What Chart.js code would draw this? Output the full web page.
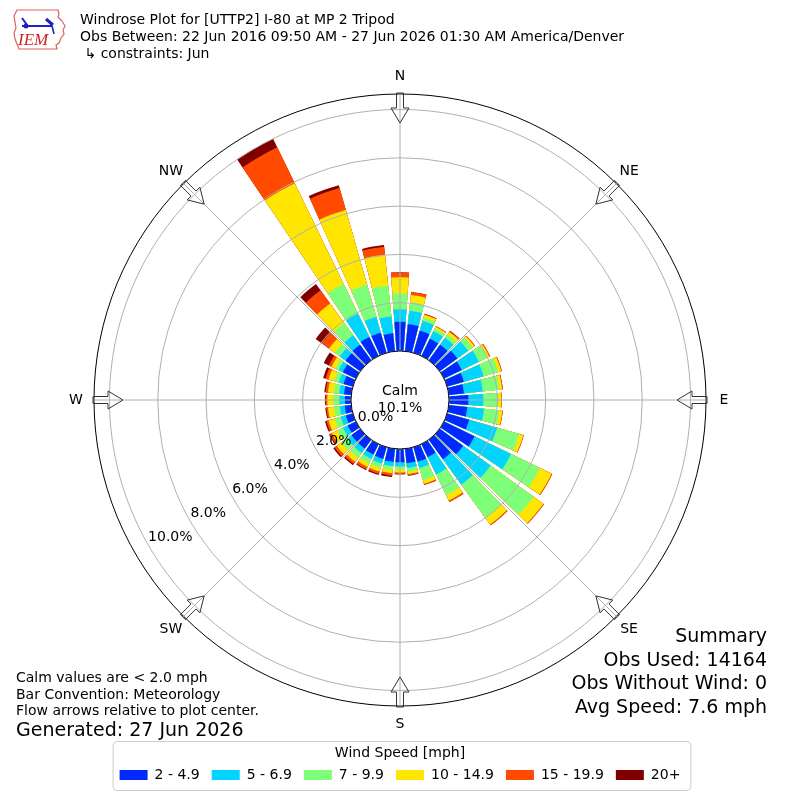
<!DOCTYPE html>
<html>
<head>
<meta charset="utf-8">
<title>Windrose Plot for [UTTP2] I-80 at MP 2 Tripod</title>
<script src="https://cdn.jsdelivr.net/npm/chart.js@4.4.1/dist/chart.umd.min.js"></script>
<style>
  html, body { margin: 0; padding: 0; background: #fff; }
  #wrap { position: relative; width: 800px; height: 800px; font-family: "DejaVu Sans", sans-serif; color: #000; }
  #wrap canvas { position: absolute; left: 0; top: 0; }
  .txt { position: absolute; white-space: nowrap; }
  #title { left: 80px; top: 11px; font-size: 14px; line-height: 17px; }
  #summary { right: 33px; top: 624px; font-size: 19px; line-height: 23.5px; text-align: right; }
  #notes { left: 16px; top: 669px; font-size: 14px; line-height: 16.5px; }
  #generated { left: 16px; top: 719px; font-size: 19px; line-height: 21px; }
  #logo { position: absolute; left: 6px; top: 4px; }
</style>
</head>
<body>
<div id="wrap">
  <canvas id="rose" width="800" height="800"></canvas>
  <svg id="logo" width="64" height="50" viewBox="0 0 64 50">
    <path d="M11 6 L52 6 L53 10 L52 13 L56 17 L59 22 L57 26 L58 30 L55 34 L53 39 L50 41 L51 45 L13 45 L11 40 L9 35 L8 29 L10 24 L9 18 L8 12 Z"
          fill="none" stroke="#e06060" stroke-width="1.2"/>
    <line x1="16" y1="22" x2="46" y2="22" stroke="#2020c0" stroke-width="2"/>
    <circle cx="20" cy="22" r="2.5" fill="#2020c0"/>
    <line x1="16" y1="14" x2="21" y2="21" stroke="#2020c0" stroke-width="2"/>
    <line x1="40" y1="15" x2="47" y2="21" stroke="#2020c0" stroke-width="3"/>
    <line x1="46" y1="22" x2="48" y2="30" stroke="#2020c0" stroke-width="1.5"/>
    <text x="12" y="41" font-family="Liberation Serif" font-style="italic" font-size="17" fill="#d02020">IEM</text>
  </svg>
  <div id="title" class="txt">Windrose Plot for [UTTP2] I-80 at MP 2 Tripod<br>Obs Between: 22 Jun 2016 09:50 AM - 27 Jun 2026 01:30 AM America/Denver<br>&nbsp;↳ constraints: Jun</div>
  <div id="summary" class="txt">Summary<br>Obs Used: 14164<br>Obs Without Wind: 0<br>Avg Speed: 7.6 mph</div>
  <div id="notes" class="txt">Calm values are &lt; 2.0 mph<br>Bar Convention: Meteorology<br>Flow arrows relative to plot center.</div>
  <div id="generated" class="txt">Generated: 27 Jun 2026</div>
</div>
<script>
// wind direction bins (degrees, meteorological)
const directions = [0, 10, 20, 30, 40, 50, 60, 70, 80, 90, 100, 110, 120, 130, 140, 150, 160, 170,
  180, 190, 200, 210, 220, 230, 240, 250, 260, 270, 280, 290, 300, 310, 320, 330, 340, 350];

const speedBins = ['2 - 4.9', '5 - 6.9', '7 - 9.9', '10 - 14.9', '15 - 19.9', '20+'];
const colors = ['#0028ff', '#00d4ff', '#7dff7a', '#ffe600', '#ff4a00', '#800000'];

// percent of observations per direction, one array per speed bin
const speed2to5 = [1.21, 1.12, 0.95, 0.79, 0.80, 0.90, 0.81, 0.72, 0.63, 0.80, 0.77, 0.95, 1.40, 1.20, 1.00, 0.60, 0.62, 0.60,
  0.55, 0.55, 0.50, 0.48, 0.45, 0.45, 0.38, 0.30, 0.27, 0.25, 0.30, 0.40, 0.60, 0.75, 0.79, 0.87, 0.87, 0.75];
const speed5to7 = [0.52, 0.56, 0.42, 0.35, 0.35, 0.55, 0.79, 0.85, 0.78, 0.62, 0.70, 1.20, 1.68, 1.40, 1.30, 0.80, 0.28, 0.20,
  0.17, 0.17, 0.20, 0.20, 0.23, 0.23, 0.22, 0.22, 0.21, 0.23, 0.20, 0.20, 0.20, 0.30, 0.49, 1.08, 0.68, 0.70];
const speed7to10 = [0.66, 0.36, 0.15, 0.12, 0.17, 0.23, 0.38, 0.63, 0.69, 0.62, 0.63, 0.95, 1.33, 2.20, 1.70, 0.95, 0.52, 0.15,
  0.13, 0.16, 0.20, 0.20, 0.24, 0.27, 0.25, 0.26, 0.24, 0.25, 0.22, 0.20, 0.15, 0.25, 0.62, 1.36, 1.39, 1.28];
const speed10to15 = [0.66, 0.30, 0.12, 0.08, 0.13, 0.09, 0.10, 0.13, 0.12, 0.13, 0.13, 0.18, 0.54, 0.50, 0.33, 0.25, 0.16, 0.10,
  0.12, 0.14, 0.15, 0.17, 0.21, 0.25, 0.25, 0.27, 0.25, 0.25, 0.25, 0.25, 0.17, 0.30, 1.00, 4.64, 3.21, 1.29];
const speed15to20 = [0.19, 0.12, 0.03, 0.03, 0.05, 0.03, 0.04, 0.03, 0.03, 0.02, 0.02, 0.02, 0.03, 0.03, 0.04, 0.06, 0.04, 0.05,
  0.06, 0.10, 0.10, 0.11, 0.11, 0.12, 0.10, 0.09, 0.07, 0.07, 0.10, 0.13, 0.13, 0.37, 0.68, 1.65, 0.95, 0.33];
const speed20plus = [0.02, 0.01, 0.01, 0.00, 0.01, 0.00, 0.00, 0.00, 0.00, 0.00, 0.00, 0.00, 0.00, 0.00, 0.00, 0.00, 0.01, 0.02,
  0.02, 0.06, 0.05, 0.04, 0.06, 0.06, 0.04, 0.06, 0.04, 0.03, 0.05, 0.10, 0.23, 0.31, 0.32, 0.40, 0.12, 0.07];

const calmPct = 10.1;
const rTicks = [0, 2, 4, 6, 8, 10];
const compassLabels = ['N', 'NE', 'E', 'SE', 'S', 'SW', 'W', 'NW'];

// axis limits: the negative part of the axis makes room for the calm circle
const minPct = -2.03;
const maxPct = 10.64;
const BAR_DEG = 8.2;
const GAP_DEG = 1.8;

Chart.defaults.font.family = '"DejaVu Sans", sans-serif';
Chart.defaults.color = '#000';

const bins = [speed2to5, speed5to7, speed7to10, speed10to15, speed15to20, speed20plus];

// stacked totals, drawn as overlapping arcs (smallest on top)
const cumulative = [];
bins.forEach((arr, k) => {
  cumulative.push(arr.map((v, i) => (k ? cumulative[k - 1][i] : 0) + v));
});

// every direction is gap / bar / gap so the bars are centred on their bin
const datasets = speedBins.map((label, k) => ({
  label,
  data: directions.flatMap((d, i) => [0, cumulative[k][i], 0]),
  backgroundColor: (c) => (c.dataIndex % 3 === 1 ? colors[k] : 'rgba(0,0,0,0)'),
  borderWidth: 0,
  angle: (c) => (c.dataIndex % 3 === 1 ? BAR_DEG : GAP_DEG / 2),
}));

// 72 slots of 5 degrees starting at -5, so slot 1 + 9k is a compass point
const slots = Array.from({ length: 72 }, () => '');
const compassSlot = (k) => 1 + 9 * k;

const windroseDecor = {
  id: 'windroseDecor',
  afterDraw(chart) {
    const { ctx } = chart;
    const r = chart.scales.r;
    const cx = r.xCenter;
    const cy = r.yCenter;
    const calmR = r.getDistanceFromCenterForValue(0);
    const outerR = r.getDistanceFromCenterForValue(maxPct);

    ctx.save();
    ctx.beginPath();
    ctx.arc(cx, cy, calmR, 0, Math.PI * 2);
    ctx.fillStyle = '#fff';
    ctx.fill();
    ctx.lineWidth = 1;
    ctx.strokeStyle = '#000';
    ctx.stroke();

    ctx.font = '14px "DejaVu Sans"';
    ctx.fillStyle = '#000';
    ctx.textAlign = 'center';
    ctx.textBaseline = 'middle';
    ctx.fillText('Calm', cx, cy - 9);
    ctx.fillText(calmPct.toFixed(1) + '%', cx, cy + 8);

    // radial labels along 240 degrees
    rTicks.forEach((v) => {
      const p = r.getPointPosition(49, r.getDistanceFromCenterForValue(v) - 19);
      ctx.fillText(v.toFixed(1) + '%', p.x + 1.5 + (v >= 10 ? 4 : 0), p.y + 2);
    });

    compassLabels.forEach((lab, k) => {
      const p = r.getPointPosition(compassSlot(k), outerR + 18);
      ctx.fillText(lab, p.x, p.y);
    });

    // hollow flow arrows pointing to the centre
    ctx.strokeStyle = '#333';
    ctx.lineWidth = 1;
    compassLabels.forEach((lab, k) => {
      const a = r.getIndexAngle(compassSlot(k)) - Math.PI / 2;
      const pts = [[outerR + 1, -3.5], [outerR - 14, -3.5], [outerR - 14, -9], [outerR - 29, 0],
        [outerR - 14, 9], [outerR - 14, 3.5], [outerR + 1, 3.5]];
      ctx.beginPath();
      pts.forEach(([s, t], i) => {
        const x = cx + s * Math.cos(a) - t * Math.sin(a);
        const y = cy + s * Math.sin(a) + t * Math.cos(a);
        if (i) ctx.lineTo(x, y); else ctx.moveTo(x, y);
      });
      ctx.closePath();
      ctx.stroke();
    });

    // frame round the legend
    const lg = chart.legend;
    const hb = lg.legendHitBoxes;
    if (hb && hb.length) {
      const last = hb[hb.length - 1];
      const x0 = hb[0].left - 6.5;
      const x1 = last.left + last.width + 10.5;
      const y0 = lg.top + 1.5;
      const y1 = lg.bottom - 1.5;
      const rad = 4;
      ctx.beginPath();
      ctx.moveTo(x0 + rad, y0);
      ctx.arcTo(x1, y0, x1, y1, rad);
      ctx.arcTo(x1, y1, x0, y1, rad);
      ctx.arcTo(x0, y1, x0, y0, rad);
      ctx.arcTo(x0, y0, x1, y0, rad);
      ctx.closePath();
      ctx.strokeStyle = '#cccccc';
      ctx.stroke();
    }
    ctx.restore();
  },
};

const canvas = document.getElementById('rose');
new Chart(canvas, {
  type: 'polarArea',
  data: { labels: slots, datasets },
  options: {
    responsive: false,
    animation: false,
    events: [],
    layout: { padding: { left: 94, right: 94, top: 60, bottom: 8 } },
    scales: {
      r: {
        min: minPct,
        max: maxPct,
        startAngle: -5,
        afterBuildTicks: (scale) => {
          scale.ticks = [minPct, ...rTicks, maxPct].map((v) => ({ value: v }));
        },
        ticks: { display: false },
        pointLabels: { display: false },
        grid: {
          z: 1,
          circular: true,
          color: (c) => (c.tick && c.tick.value >= maxPct ? '#000' : '#b0b0b0'),
          lineWidth: (c) => (c.tick && c.tick.value < 0 ? 0 : 1),
        },
        angleLines: {
          display: true,
          color: '#b0b0b0',
          lineWidth: (c) => ((c.index - 1) % 9 === 0 ? 1 : 0),
        },
      },
    },
    plugins: {
      tooltip: { enabled: false },
      legend: {
        position: 'bottom',
        onClick: null,
        title: {
          display: true,
          text: 'Wind Speed [mph]',
          font: { size: 14, lineHeight: 1 },
          padding: { top: 6, bottom: -4 },
        },
        labels: {
          boxWidth: 28,
          boxHeight: 10,
          padding: 12,
          font: { size: 14 },
          generateLabels: (chart) => chart.data.datasets.map((ds, i) => ({
            text: ds.label,
            fillStyle: colors[i],
            strokeStyle: colors[i],
            lineWidth: 0,
            hidden: false,
            datasetIndex: i,
          })),
        },
      },
    },
  },
  plugins: [windroseDecor],
});
</script>
</body>
</html>
